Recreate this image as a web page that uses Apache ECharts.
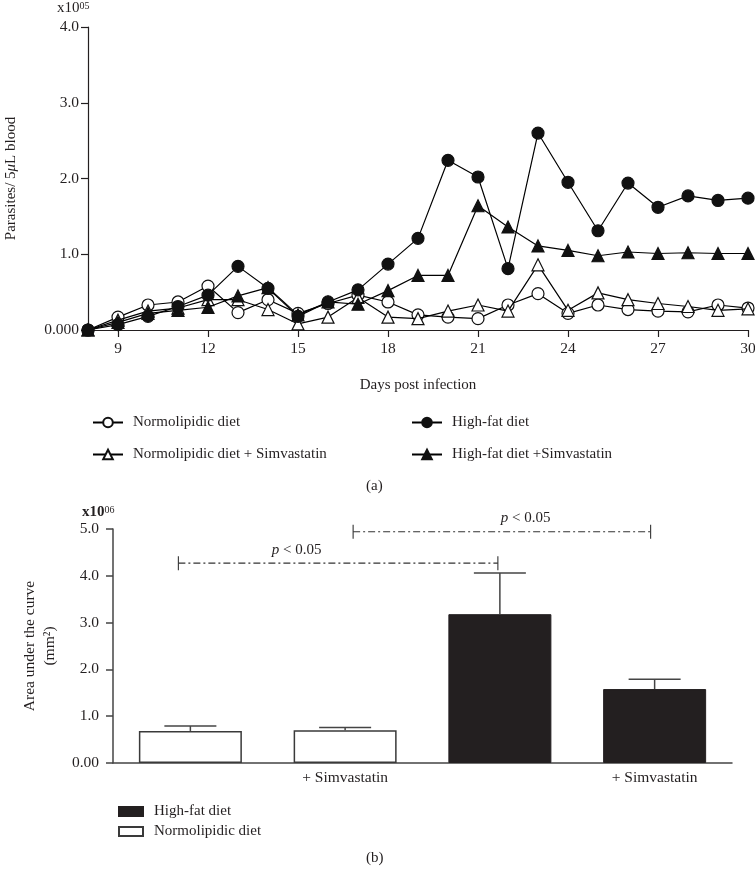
<!DOCTYPE html>
<html>
<head>
<meta charset="utf-8">
<script src="https://cdn.jsdelivr.net/npm/echarts@6/dist/echarts.min.js"></script>
<style>html,body{margin:0;padding:0;background:#fff;}#c{width:755px;height:870px;}</style>
</head>
<body>
<div id="c"></div>
<script>
// ---------- Data (panel a) ----------
const days = [8,9,10,11,12,13,14,15,16,17,18,19,20,21,22,23,24,25,26,27,28,29,30];
const dayTicks = [9,12,15,18,21,24,27,30];
const normolipidic      = [0,0.17,0.33,0.37,0.58,0.23,0.40,0.22,0.35,0.46,0.37,0.20,0.17,0.15,0.33,0.48,0.22,0.33,0.27,0.25,0.24,0.33,0.29];
const normolipidicSimva = [0,0.13,0.25,0.29,0.40,0.40,0.27,0.08,0.17,0.43,0.17,0.15,0.25,0.33,0.25,0.86,0.26,0.49,0.40,0.35,0.31,0.26,0.28];
const highFat           = [0,0.07,0.18,0.31,0.46,0.84,0.55,0.18,0.37,0.53,0.87,1.21,2.24,2.02,0.81,2.60,1.95,1.31,1.94,1.62,1.77,1.71,1.74];
const highFatSimva      = [0,0.10,0.22,0.26,0.30,0.45,0.56,0.20,0.37,0.34,0.52,0.72,0.72,1.64,1.36,1.11,1.05,0.98,1.03,1.01,1.02,1.01,1.01];

// ---------- Data (panel b) ----------
const groups = ['Normolipidic diet','Normolipidic diet + Simvastatin','High-fat diet','High-fat diet + Simvastatin'];
const groupTickLabels = ['', '+ Simvastatin', '', '+ Simvastatin'];
const groupDiet = ['Normolipidic diet','Normolipidic diet','High-fat diet','High-fat diet'];
const aucMean  = [0.685, 0.70, 3.18, 1.58];
const aucUpper = [0.79, 0.76, 4.06, 1.79];
const comparisons = [[0, 2, 4.27], [1, 3, 4.94]];

const INK = '#231f20';
const FONT = '"Liberation Serif", "DejaVu Serif", serif';

function pts(arr){ return days.map((d,i)=>[d, arr[i]]); }

function lineSeries(name, data, symbol, filled, z){
  return {
    name, type:'line', xAxisIndex:0, yAxisIndex:0, data: pts(data),
    symbol, symbolSize:12, showSymbol:true, z,
    lineStyle:{color:'#000', width:1.2},
    itemStyle:{color: filled?'#111':'#fff', borderColor:'#111', borderWidth:1.2},
    emphasis:{disabled:true}, animation:false
  };
}

// bar series names carry a trailing space so their legend entries stay separate from the line series
const dietNames = ['High-fat diet','Normolipidic diet'];
const barSeries = dietNames.map(diet => ({
  name: diet + ' ', type:'bar', xAxisIndex:1, yAxisIndex:1, stack:'auc',
  barWidth: 103,
  data: aucMean.map((v,i)=> groupDiet[i]===diet ? v : '-'),
  itemStyle: diet==='High-fat diet'
    ? {color: INK, borderColor: INK, borderWidth: 1}
    : {color:'#fff', borderColor:'#3a3a3a', borderWidth:1.5},
  animation:false
}));

const option = {
  backgroundColor:'#fff',
  textStyle:{fontFamily: FONT, color: INK},
  animation:false,
  grid:[
    {left:88, right:7, top:27, bottom:540, outerBoundsMode:'none', containLabel:false},
    {left:113, right:23, top:529, bottom:107, outerBoundsMode:'none', containLabel:false}
  ],
  xAxis:[
    {
      type:'value', gridIndex:0, min:8, max:30,
      name:'Days post infection', nameLocation:'middle', nameGap:48,
      nameTextStyle:{fontFamily:FONT, fontSize:15, color:INK},
      axisLine:{show:true, lineStyle:{color:INK, width:1.2}},
      axisTick:{show:true, length:7, lineStyle:{color:INK, width:1.2}, customValues: dayTicks},
      axisLabel:{fontFamily:FONT, fontSize:15.5, color:INK, margin:11, customValues: dayTicks},
      splitLine:{show:false}
    },
    {
      type:'category', gridIndex:1, data: groups,
      axisLine:{show:true, lineStyle:{color:'#444', width:1.5}},
      axisTick:{show:false},
      axisLabel:{fontFamily:FONT, fontSize:15.5, color:INK, margin:7,
        formatter:(v)=> groupTickLabels[groups.indexOf(v)]},
      splitLine:{show:false}
    }
  ],
  yAxis:[
    {
      type:'value', gridIndex:0, min:0, max:4, interval:1,
      name:'Parasites/ 5{i|μ}L blood', nameLocation:'middle', nameRotate:90, nameGap:69,
      nameTextStyle:{fontFamily:FONT, fontSize:15, color:INK, rich:{i:{fontStyle:'italic', fontFamily:FONT, fontSize:15, color:INK}}},
      axisLine:{show:true, lineStyle:{color:INK, width:1.2}},
      axisTick:{show:true, length:7, lineStyle:{color:INK, width:1.2}},
      axisLabel:{fontFamily:FONT, fontSize:15.5, color:INK, margin:9,
        formatter:v=> v===0 ? '0.000' : v.toFixed(1)},
      splitLine:{show:false}
    },
    {
      type:'value', gridIndex:1, min:0, max:5, interval:1,
      name:'Area under the curve\n(mm²)', nameLocation:'middle', nameRotate:90, nameGap:53,
      nameTextStyle:{fontFamily:FONT, fontSize:15.5, color:INK, lineHeight:20, align:'center'},
      axisLine:{show:true, lineStyle:{color:'#444', width:1.5}},
      axisTick:{show:true, length:7, lineStyle:{color:'#444', width:1.5}},
      axisLabel:{fontFamily:FONT, fontSize:15.5, color:INK, margin:14,
        formatter:v=> v===0 ? '0.00' : v.toFixed(1)},
      splitLine:{show:false}
    }
  ],
  legend:[
    {
      left:87, top:410, orient:'vertical', itemWidth:30, itemHeight:12, itemGap:17,
      data:['Normolipidic diet','Normolipidic diet + Simvastatin'],
      textStyle:{fontFamily:FONT, fontSize:15, color:INK, padding:[0,0,0,5]},
      selectedMode:false
    },
    {
      left:406, top:410, orient:'vertical', itemWidth:30, itemHeight:12, itemGap:17,
      data:['High-fat diet','High-fat diet +Simvastatin'],
      textStyle:{fontFamily:FONT, fontSize:15, color:INK, padding:[0,0,0,5]},
      selectedMode:false
    },
    {
      left:113, top:799, orient:'vertical', itemWidth:24, itemHeight:9, itemGap:5, icon:'rect',
      data:['High-fat diet ','Normolipidic diet '],
      textStyle:{fontFamily:FONT, fontSize:15, color:INK, padding:[0,0,0,6]},
      selectedMode:false
    }
  ],
  graphic:[
    {type:'text', left:57, top:1, style:{text:'{a|x10}{b|05}', rich:{a:{fontFamily:FONT, fontSize:15, fill:INK}, b:{fontFamily:FONT, fontSize:10, fill:INK, verticalAlign:'top'}}}},
    {type:'text', left:82, top:505, style:{text:'{a|x10}{b|06}', rich:{a:{fontFamily:FONT, fontSize:15, fontWeight:'bold', fill:INK}, b:{fontFamily:FONT, fontSize:10, fill:INK, verticalAlign:'top'}}}},
    {type:'text', left:366, top:479, style:{text:'(a)', fontFamily:FONT, fontSize:15, fill:INK}},
    {type:'text', left:366, top:851, style:{text:'(b)', fontFamily:FONT, fontSize:15, fill:INK}}
  ],
  series:[
    lineSeries('Normolipidic diet', normolipidic, 'circle', false, 2),
    lineSeries('Normolipidic diet + Simvastatin', normolipidicSimva, 'triangle', false, 3),
    lineSeries('High-fat diet +Simvastatin', highFatSimva, 'triangle', true, 4),
    lineSeries('High-fat diet', highFat, 'circle', true, 5),
    ...barSeries,
    {
      type:'custom', xAxisIndex:1, yAxisIndex:1, z:5,
      data: aucMean.map((v,i)=>[i, v, aucUpper[i]]),
      renderItem:(params, api)=>{
        const p0 = api.coord([api.value(0), api.value(1)]);
        const p1 = api.coord([api.value(0), api.value(2)]);
        const hw = 26;
        const st = {stroke:'#444', lineWidth:1.5};
        return {type:'group', children:[
          {type:'line', shape:{x1:p0[0], y1:p0[1], x2:p1[0], y2:p1[1]}, style:st},
          {type:'line', shape:{x1:p1[0]-hw, y1:p1[1], x2:p1[0]+hw, y2:p1[1]}, style:st}
        ]};
      },
      animation:false
    },
    {
      type:'custom', xAxisIndex:1, yAxisIndex:1, z:5,
      data: comparisons,
      renderItem:(params, api)=>{
        const a = api.coord([api.value(0), api.value(2)]);
        const b = api.coord([api.value(1), api.value(2)]);
        const idx = params.dataIndex;
        const shiftL = idx===0 ? -12 : 8;
        const shiftR = idx===0 ? -2 : -4;
        const x1 = a[0]+shiftL, x2 = b[0]+shiftR, y = a[1];
        const frac = idx===0 ? 0.37 : 0.58;
        const tx = x1 + (x2-x1)*frac;
        const st = {stroke:'#333', lineWidth:1.1};
        return {type:'group', children:[
          {type:'line', shape:{x1:x1, y1:y, x2:x2, y2:y}, style:Object.assign({lineDash:[7,3,2,3]}, st)},
          {type:'line', shape:{x1:x1, y1:y-7, x2:x1, y2:y+7}, style:st},
          {type:'line', shape:{x1:x2, y1:y-7, x2:x2, y2:y+7}, style:st},
          {type:'text', x:tx, y:y-6, style:{text:'{i|p} < 0.05', textAlign:'center', textVerticalAlign:'bottom',
            rich:{i:{fontStyle:'italic', fontFamily:FONT, fontSize:15, fill:INK}}, fontFamily:FONT, fontSize:15, fill:INK}}
        ]};
      },
      animation:false
    }
  ]
};

const chart = echarts.init(document.getElementById('c'), null, {renderer:'canvas'});
chart.setOption(option);
</script>
</body>
</html>
